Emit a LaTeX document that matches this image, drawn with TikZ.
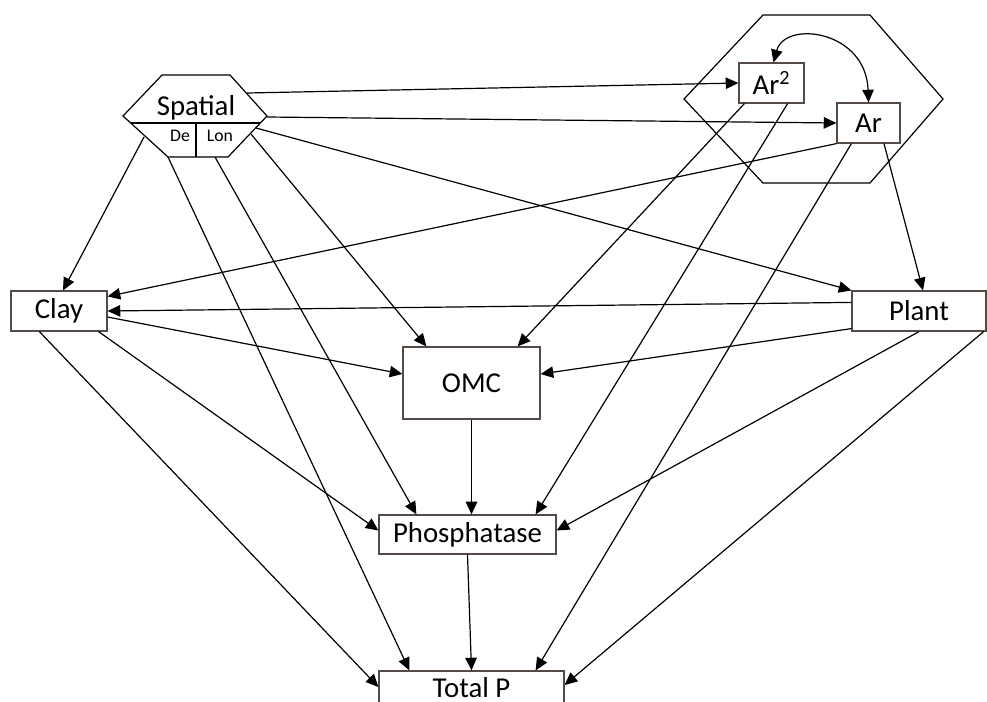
\documentclass[tikz,border=0pt]{standalone}
\usepackage{fontspec}
\setmainfont{Carlito}
\usetikzlibrary{arrows.meta}

\definecolor{boxline}{RGB}{85,75,70}

\def\spatialhex{(162,75) -- (230,75) -- (267,116) -- (228,157) -- (168,157) -- (123,116) -- cycle}
\def\arhex{(763,15) -- (870,15) -- (943,99) -- (870,183) -- (763,183) -- (684,99) -- cycle}

\tikzset{
  box/.style={draw=boxline, line width=0.9pt, inner sep=0pt, fill=white,
    font=\fontsize{21.6pt}{24pt}\selectfont},
  small/.style={inner sep=0pt, font=\fontsize{13.3pt}{15pt}\selectfont},
  link/.style={line width=0.9pt, -{Triangle[length=9.5pt,width=8.6pt]}},
}

\begin{document}
\begin{tikzpicture}[x=0.75pt, y=-0.75pt]
  \useasboundingbox (0,0) rectangle (987,701);

  % hexagons
  \draw[line width=0.9pt] \arhex;
  \draw[line width=0.9pt] \spatialhex;
  \draw[line width=0.9pt] (131,123) -- (260,123);
  \draw[line width=0.9pt] (196,123) -- (196,157);
  \node[anchor=base, inner sep=0pt, font=\fontsize{21.6pt}{24pt}\selectfont] (spatial) at (196,115) {Spatial};
  \node[small, anchor=base] (de) at (180,141) {De};
  \node[small, anchor=base] (lon) at (220,141) {Lon};

  % start points on the spatial hexagon
  \coordinate (sp-ar2) at (247,93);
  \coordinate (sp-ar) at (267,117);
  \coordinate (sp-plant) at (256,128);
  \coordinate (sp-omc) at (251,134);
  \coordinate (sp-phos) at (215,157);
  \coordinate (sp-tot) at (168,157);
  \coordinate (sp-clay) at (144,137);

  % boxes
  \node[box, minimum width=48.75pt, minimum height=30pt] (ar2) at (771.5,83) {Ar\textsuperscript{2}};
  \node[box, minimum width=47.25pt, minimum height=30pt] (ar) at (868.5,123) {Ar};
  \node[box, minimum width=72pt, minimum height=30pt] (clay) at (59,311) {Clay};
  \node[box, minimum width=100.5pt, minimum height=30pt] (plant) at (919,311) {Plant};
  \node[box, minimum width=102.75pt, minimum height=54pt] (omc) at (471.5,383) {OMC};
  \node[box, minimum width=132.75pt, minimum height=29.25pt] (phos) at (467.5,534.5) {Phosphatase};
  \node[box, minimum width=138.75pt, minimum height=30pt] (tot) at (471.5,691) {\raisebox{6pt}{Total P}};

  % from spatial
  \draw[link] (sp-ar2) -- (ar2.west);
  \draw[link] (sp-ar) -- (ar.west);
  \draw[link] (sp-plant) -- (plant.north west);
  \draw[link] (sp-omc) -- ([xshift=18pt]omc.north west);
  \draw[link] (sp-phos) -- ([xshift=28.5pt]phos.north west);
  \draw[link] (sp-tot) -- ([xshift=23.25pt]tot.north west);
  \draw[link] (sp-clay) -- ([xshift=3pt]clay.north);

  % from Ar2 and Ar
  \draw[line width=0.9pt, {Triangle[length=9.5pt,width=8.6pt]}-{Triangle[length=9.5pt,width=8.6pt]}]
    (ar.north) .. controls (866,30) and (785,20) .. ([xshift=1.5pt]ar2.north);
  \draw[link] ([xshift=4.5pt]ar2.south west) -- ([xshift=-17.25pt]omc.north east);
  \draw[link] ([xshift=-12.75pt]ar2.south east) -- ([xshift=-15.75pt]phos.north east);
  \draw[link] (ar.south west) -- ([yshift=-4.5pt]clay.north east);
  \draw[link] ([xshift=11.6pt]ar.south) -- ([xshift=3pt]plant.north);
  \draw[link] ([xshift=11.25pt]ar.south west) -- ([xshift=-21.75pt]tot.north east);

  % from Plant
  \draw[link] ([yshift=-9pt]plant.north west) -- (clay.east);
  \draw[link] ([yshift=2.25pt]plant.south west) -- ([yshift=6.75pt]omc.east);
  \draw[link] (plant.south) -- ([yshift=3pt]phos.east);
  \draw[link] ([xshift=-2.25pt]plant.south east) -- ([yshift=4.5pt]tot.east);

  % from Clay
  \draw[link] ([yshift=-4.5pt]clay.east) -- ([yshift=6.75pt]omc.west);
  \draw[link] ([xshift=-6.75pt]clay.south east) -- ([yshift=3pt]phos.west);
  \draw[link] ([xshift=21.75pt]clay.south west) -- ([yshift=3pt]tot.west);

  % down the middle
  \draw[link] (omc.south) -- (omc.south |- phos.north);
  \draw[link] (phos.south) -- (tot.north);
\end{tikzpicture}
\end{document}
